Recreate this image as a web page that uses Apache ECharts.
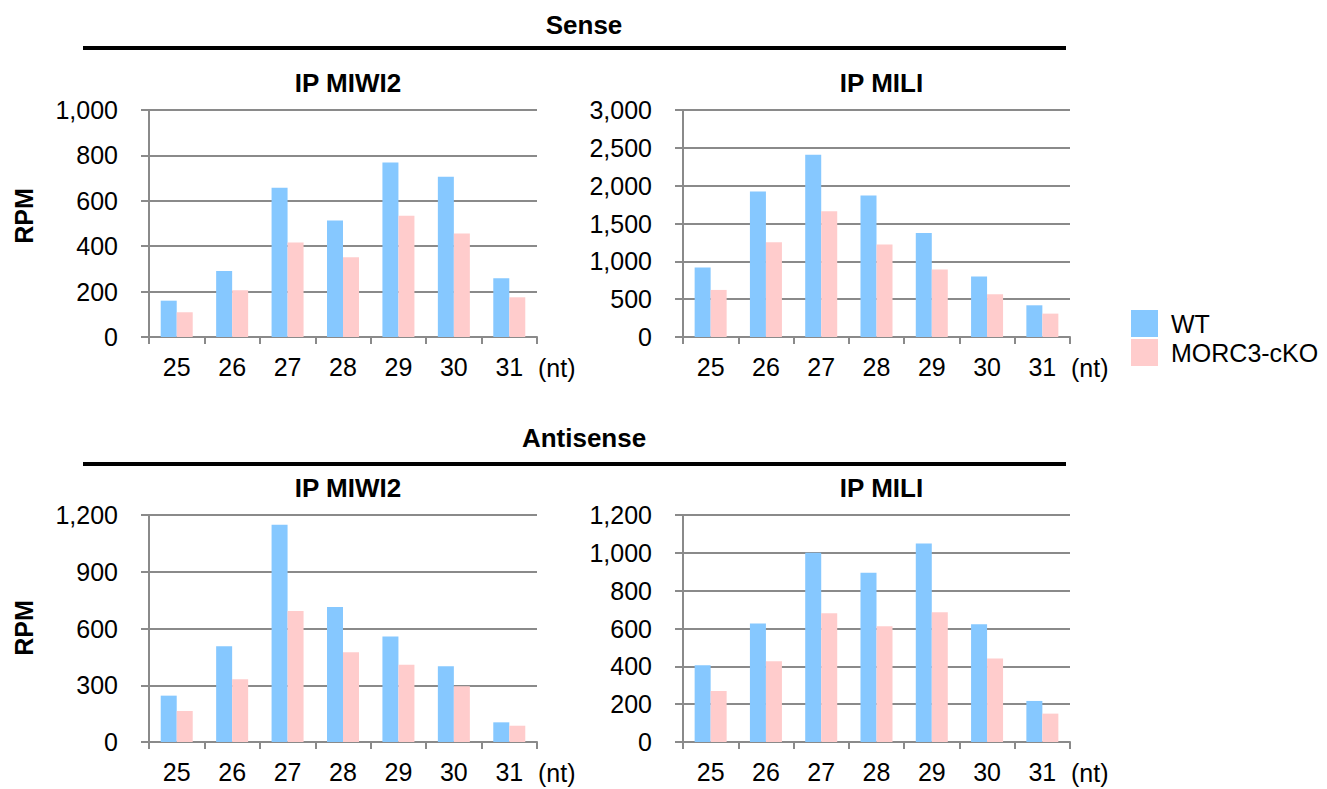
<!DOCTYPE html>
<html>
<head>
<meta charset="utf-8">
<script src="https://cdn.jsdelivr.net/npm/echarts@6/dist/echarts.min.js"></script>
<style>
html,body{margin:0;padding:0;background:#fff;}
#chart{width:1327px;height:789px;}
</style>
</head>
<body>
<div id="chart"></div>
<script>
const categories = ['25','26','27','28','29','30','31'];
const seriesNames = ['WT','MORC3-cKO'];
const senseMiwi2WT = [160,291,657,513,769,706,259];
const senseMiwi2KO = [109,206,416,351,534,456,175];
const senseMiliWT = [918,1923,2409,1870,1376,798,419];
const senseMiliKO = [622,1253,1663,1222,891,565,309];
const antiMiwi2WT = [245,506,1149,713,558,401,104];
const antiMiwi2KO = [164,332,692,475,409,295,86];
const antiMiliWT = [406,626,1000,895,1050,623,217];
const antiMiliKO = [270,427,680,612,686,441,150];
const yMax = [1000,3000,1200,1200];
const yStep = [200,500,300,200];
const panelTitles = ['IP MIWI2','IP MILI','IP MIWI2','IP MILI'];
const sectionTitles = ['Sense','Antisense'];
const unitLabel = '(nt)';
const yName = 'RPM';

const FONT = 'Liberation Sans, Arial, Helvetica, sans-serif';
const GRAY = '#8a8a8a';
const BLUE = '#86C8FF';
const PINK = '#FFCCCC';

const grids = [
  {left:149, top:110, width:388, height:227},
  {left:683, top:110, width:387, height:227},
  {left:149, top:515, width:388, height:227},
  {left:683, top:515, width:387, height:227}
];
const panelData = [
  [senseMiwi2WT, senseMiwi2KO],
  [senseMiliWT, senseMiliKO],
  [antiMiwi2WT, antiMiwi2KO],
  [antiMiliWT, antiMiliKO]
];

const xAxes = grids.map((g,i)=>({
  type:'category', gridIndex:i, data:categories,
  axisLine:{show:true, lineStyle:{color:GRAY, width:2}},
  axisTick:{show:true, length:7, lineStyle:{color:GRAY, width:2}},
  axisLabel:{fontSize:25, fontFamily:FONT, color:'#000', margin:17}
}));
const yAxes = grids.map((g,i)=>({
  type:'value', gridIndex:i, min:0, max:yMax[i], interval:yStep[i],
  axisLine:{show:true, lineStyle:{color:GRAY, width:2}},
  axisTick:{show:true, length:8, lineStyle:{color:GRAY, width:2}},
  splitLine:{show:true, lineStyle:{color:GRAY, width:2}},
  axisLabel:{fontSize:25, fontFamily:FONT, color:'#000', margin:31,
    formatter:(v)=>v.toLocaleString('en-US')}
}));
const series = [];
panelData.forEach((pair,i)=>{
  pair.forEach((vals,k)=>{
    series.push({
      type:'bar', name:seriesNames[k], xAxisIndex:i, yAxisIndex:i,
      data:vals, barWidth:16, barGap:'0%',
      itemStyle:{color:k===0?BLUE:PINK},
      emphasis:{disabled:true}
    });
  });
});

const titles = [];
panelTitles.forEach((t,i)=>{
  const g = grids[i];
  titles.push({text:t, left:g.left+g.width/2, top:g.top-45, textAlign:'center',
    textStyle:{fontSize:26, fontWeight:'bold', fontFamily:FONT, color:'#000'}});
});
titles.push({text:sectionTitles[0], left:579, top:7, textAlign:'center',
  textStyle:{fontSize:26, fontWeight:'bold', fontFamily:FONT, color:'#000'}});
titles.push({text:sectionTitles[1], left:579, top:420, textAlign:'center',
  textStyle:{fontSize:26, fontWeight:'bold', fontFamily:FONT, color:'#000'}});

const graphics = [
  {type:'rect', shape:{x:83, y:46, width:983, height:4}, style:{fill:'#000'}},
  {type:'rect', shape:{x:83, y:462, width:983, height:4}, style:{fill:'#000'}},
  {type:'text', x:24, y:216, rotation:Math.PI/2, style:{text:yName, fontSize:25, fontWeight:'bold', fontFamily:FONT, fill:'#000', align:'center', verticalAlign:'middle'}},
  {type:'text', x:24, y:628, rotation:Math.PI/2, style:{text:yName, fontSize:25, fontWeight:'bold', fontFamily:FONT, fill:'#000', align:'center', verticalAlign:'middle'}}
];
grids.forEach((g)=>{
  graphics.push({type:'text', x:g.left+g.width+1, y:g.top+g.height+31,
    style:{text:unitLabel, fontSize:25, fontFamily:FONT, fill:'#000', align:'left', verticalAlign:'middle'}});
});

const chart = echarts.init(document.getElementById('chart'), null, {renderer:'svg'});
chart.setOption({
  animation:false,
  backgroundColor:'#fff',
  title:titles,
  grid:grids,
  xAxis:xAxes,
  yAxis:yAxes,
  legend:{
    data:seriesNames, orient:'vertical', left:1126, top:305,
    itemWidth:27, itemHeight:27, itemGap:2, icon:'rect',
    selectedMode:false,
    textStyle:{fontSize:25, fontFamily:FONT, color:'#000', padding:[0,0,0,8]}
  },
  graphic:graphics,
  series:series
});
</script>
</body>
</html>
